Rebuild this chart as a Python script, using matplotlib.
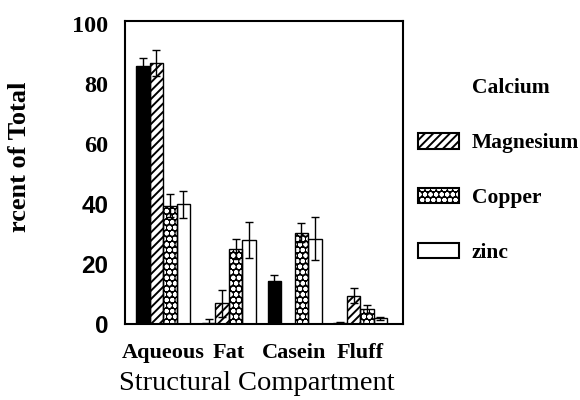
import matplotlib
matplotlib.use("Agg")
import matplotlib.pyplot as plt
from matplotlib.patches import Patch
from matplotlib.legend_handler import HandlerTuple
import numpy as np

categories = ["Aqueous", "Fat", "Casein", "Fluff"]
series = ["Calcium", "Magnesium", "Copper", "zinc"]
calcium = [86, 0.5, 14.5, 0.5]
calcium_err = [2.6, 1.2, 2.0, 0.3]
magnesium = [87, 7, 0, 9.5]
magnesium_err = [4.2, 4.5, 0, 2.5]
copper = [39.5, 25, 30.5, 5]
copper_err = [3.8, 3.3, 3.3, 1.2]
zinc = [40, 28, 28.5, 2]
zinc_err = [4.5, 6.0, 7.2, 0.5]
yticks = [0, 20, 40, 60, 80, 100]

values = [calcium, magnesium, copper, zinc]
errors = [calcium_err, magnesium_err, copper_err, zinc_err]
# (facecolor, hatch, hatch colour)
styles = [
    ("black", None, "black"),
    ("white", "////", "black"),
    ("black", "ooo", "white"),
    ("white", None, "black"),
]

plt.rcParams["hatch.linewidth"] = 1.4
fig = plt.figure(figsize=(5.8, 4.0), dpi=100)
ax = fig.add_axes([125 / 580, 1 - 324 / 400, 278 / 580, 303 / 400])

x = np.arange(len(categories))
w = 0.205
handles = []
for i, (vals, errs, st) in enumerate(zip(values, errors, styles)):
    fc, hatch, hc = st
    pos = x + (i - 1.5) * w
    ax.bar(pos, vals, width=w, facecolor=fc, hatch=hatch, edgecolor=hc,
           linewidth=0, zorder=2)
    ax.bar(pos, vals, width=w, fill=False, edgecolor="black", linewidth=1.0,
           zorder=2.5)
    ax.errorbar(pos, vals, yerr=errs, fmt="none", ecolor="black",
                elinewidth=1.0, capsize=3, capthick=1.0, zorder=3)
    if i == 0:
        handles.append(Patch(facecolor="none", edgecolor="none"))
    else:
        handles.append((Patch(facecolor=fc, hatch=hatch, edgecolor=hc, linewidth=0),
                        Patch(fill=False, edgecolor="black", linewidth=1.5)))

ax.set_xlim(-0.58, 3.65)
ax.set_ylim(0, 101)
ax.set_xticks(x)
ax.set_xticklabels(categories, family="Liberation Serif", fontweight="bold",
                   fontsize=16)
ax.set_yticks(yticks)
ax.set_yticklabels([str(t) for t in yticks])
for lab, t in zip(ax.get_yticklabels(), yticks):
    if t >= 60:
        lab.set_family("Liberation Serif")
    else:
        lab.set_family("Liberation Sans")
    lab.set_fontweight("bold")
    lab.set_fontsize(17.5)
ax.tick_params(axis="both", length=0)
ax.tick_params(axis="y", pad=12)
ax.tick_params(axis="x", pad=14)
for s in ax.spines.values():
    s.set_linewidth(1.5)

fig.text(257 / 580, 1 - 384 / 400, "Structural Compartment", ha="center",
         va="center", family="Liberation Serif", fontsize=20.5)
fig.text(20 / 580, 1 - 157 / 400, "rcent of Total", ha="center", va="center",
         rotation=90, family="Liberation Serif", fontweight="bold", fontsize=19)

fig.legend(handles=handles, labels=series, loc="upper left",
           bbox_to_anchor=(418 / 580, 1 - 78 / 400), frameon=False,
           prop=dict(family="Liberation Serif", weight="bold", size=15.5),
           handlelength=1.9, handleheight=0.75, handletextpad=0.6,
           labelspacing=1.6, borderpad=0, borderaxespad=0,
           handler_map={tuple: HandlerTuple(ndivide=1, pad=0)})

fig.savefig("out.png", dpi=100)
